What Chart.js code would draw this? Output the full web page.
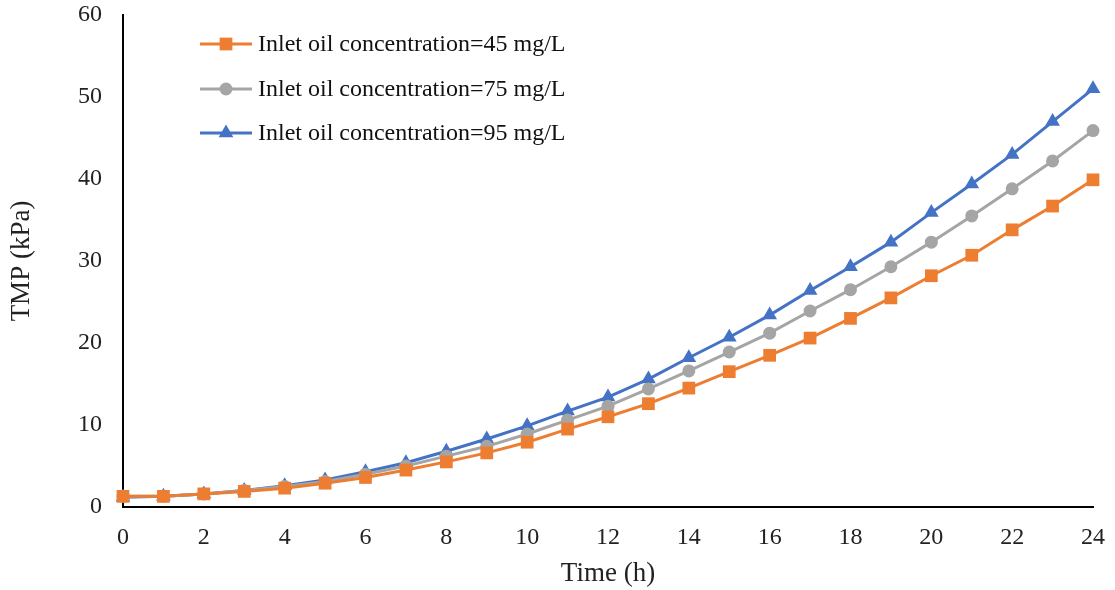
<!DOCTYPE html>
<html>
<head>
<meta charset="utf-8">
<script src="https://cdn.jsdelivr.net/npm/chart.js@4.4.0/dist/chart.umd.min.js"></script>
<style>
  html, body { margin: 0; padding: 0; background: #fff; }
  #wrap { position: relative; width: 1115px; height: 590px; }
</style>
</head>
<body>
<div id="wrap"><canvas id="tmpChart" width="1115" height="590"></canvas></div>
<script>
// time axis (h) and TMP readings (kPa) per inlet oil concentration
const hours = [0,1,2,3,4,5,6,7,8,9,10,11,12,13,14,15,16,17,18,19,20,21,22,23,24];
const tmp45 = [1.3,1.3,1.6,1.9,2.3,2.9,3.6,4.5,5.5,6.6,7.9,9.5,11.0,12.6,14.5,16.5,18.5,20.6,23.0,25.5,28.2,30.7,33.8,36.7,39.9];
const tmp75 = [1.3,1.3,1.6,2.0,2.5,3.1,4.0,5.0,6.2,7.4,8.9,10.6,12.3,14.4,16.6,18.9,21.2,23.9,26.5,29.3,32.3,35.5,38.8,42.2,45.9];
const tmp95 = [1.2,1.3,1.6,2.0,2.6,3.3,4.3,5.4,6.8,8.3,9.9,11.7,13.4,15.6,18.2,20.7,23.4,26.4,29.3,32.3,35.9,39.4,43.0,47.0,51.0];
const seriesLabels = [
  'Inlet oil concentration=45 mg/L',
  'Inlet oil concentration=75 mg/L',
  'Inlet oil concentration=95 mg/L',
];

const orange = '#ED7D31';
const grey   = '#A5A5A5';
const blue   = '#4472C4';
const serif  = '"Liberation Serif", "Times New Roman", serif';

const toXY = arr => arr.map((v, i) => ({ x: hours[i], y: v }));

function series(label, data, color, style, radius) {
  return {
    label,
    data: toXY(data),
    borderColor: color,
    backgroundColor: color,
    borderWidth: 3,
    pointStyle: style,
    pointRadius: radius,
    pointHoverRadius: radius,
    pointBorderWidth: 0,
    tension: 0,
    clip: false,
  };
}

// legend drawn inside the plot, top-left, stacked
const innerLegend = {
  id: 'innerLegend',
  afterDraw(chart) {
    const ctx = chart.ctx;
    const x0 = 200, x1 = 252, textX = 258;
    const rows = [44, 89, 133];
    ctx.save();
    chart.data.datasets.forEach((ds, i) => {
      const y = rows[i];
      ctx.strokeStyle = ds.borderColor;
      ctx.lineWidth = 3;
      ctx.beginPath();
      ctx.moveTo(x0, y);
      ctx.lineTo(x1, y);
      ctx.stroke();
      ctx.fillStyle = ds.backgroundColor;
      Chart.helpers.drawPoint(ctx, { pointStyle: ds.pointStyle, radius: ds.pointRadius, borderWidth: 0 }, (x0 + x1) / 2, y);
      ctx.fillStyle = '#111';
      ctx.font = '24px ' + serif;
      ctx.textBaseline = 'middle';
      ctx.textAlign = 'left';
      ctx.fillText(ds.label, textX, y + 1);
    });
    ctx.restore();
  },
};

new Chart(document.getElementById('tmpChart'), {
  type: 'line',
  data: {
    datasets: [
      series(seriesLabels[0], tmp45, orange, 'rect', 9),
      series(seriesLabels[1], tmp75, grey, 'circle', 6.5),
      series(seriesLabels[2], tmp95, blue, 'triangle', 8.5),
    ],
  },
  options: {
    responsive: false,
    animation: false,
    layout: { autoPadding: false, padding: { top: 15, right: 22, left: 0, bottom: 0 } },
    plugins: {
      legend: { display: false },
      tooltip: { enabled: false },
    },
    scales: {
      x: {
        type: 'linear',
        min: 0,
        max: 24,
        grid: { display: false },
        border: { display: true, color: '#000', width: 2 },
        ticks: { stepSize: 2, color: '#222', font: { family: serif, size: 24 }, padding: 8 },
        title: { display: true, text: 'Time (h)', color: '#222', font: { family: serif, size: 27 }, padding: { top: 4, bottom: 0 } },
        afterFit: s => { s.height = 83; s.paddingLeft = 0; s.paddingRight = 0; },
      },
      y: {
        min: 0,
        max: 60,
        grid: { display: false },
        border: { display: true, color: '#000', width: 2 },
        ticks: { stepSize: 10, color: '#222', font: { family: serif, size: 24 }, padding: 13 },
        title: { display: true, text: 'TMP (kPa)', color: '#222', font: { family: serif, size: 27 }, padding: { top: 6, bottom: 0 } },
        afterFit: s => { s.width = 123; s.paddingTop = 0; s.paddingBottom = 0; },
      },
    },
  },
  plugins: [innerLegend],
});
</script>
</body>
</html>
